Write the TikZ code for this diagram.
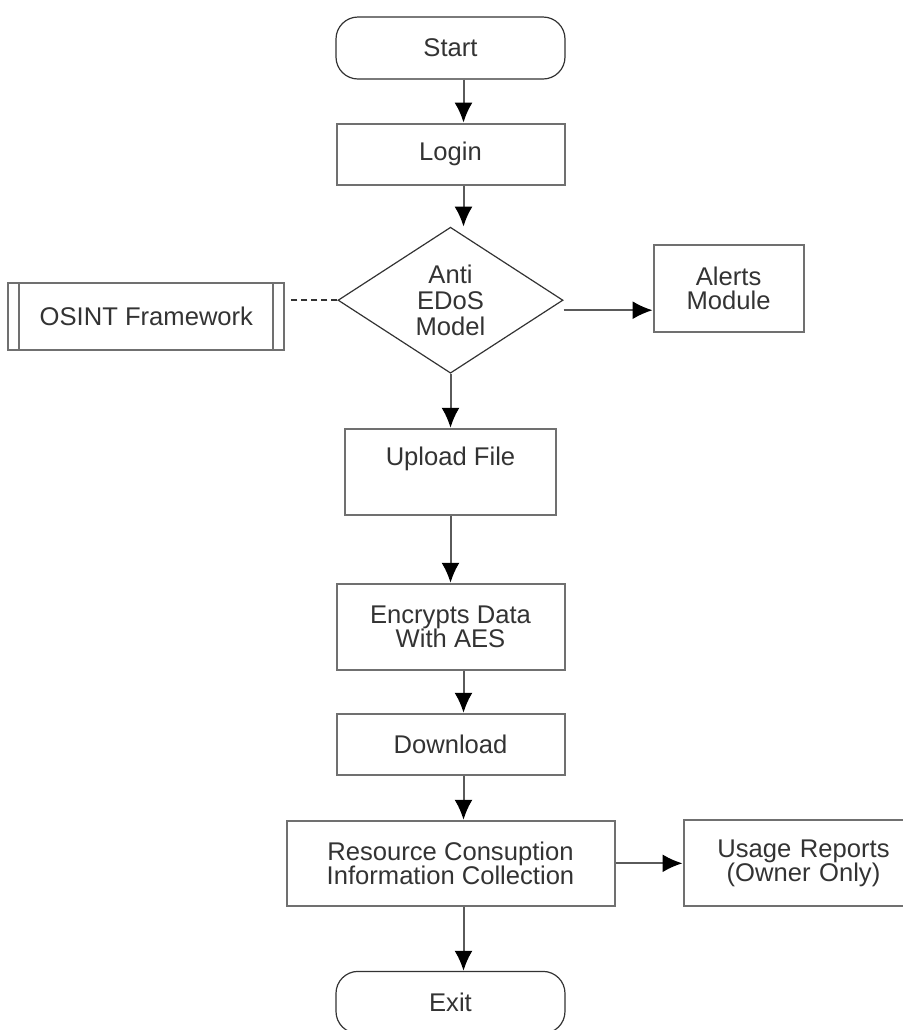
\documentclass[tikz,border=0pt]{standalone}
\usepackage{fontspec}
\setmainfont{Liberation Sans}
\usepackage{tikz}
\usetikzlibrary{arrows.meta}
\usetikzlibrary{positioning}
\usetikzlibrary{shapes.geometric}

\definecolor{edgegray}{HTML}{707070}
\definecolor{linegray}{HTML}{5A5A5A}
\definecolor{textgray}{HTML}{333333}

\begin{document}
\begin{tikzpicture}[
  x=0.5pt, y=-0.5pt,
  every node/.style={
    font=\fontsize{12.8}{12}\selectfont,
    text=textgray
  },
  term/.style={
    draw=textgray,
    line width=0.6pt,
    rounded corners=11pt,
    minimum width=114.5pt,
    minimum height=31pt,
    align=center
  },
  box/.style={
    draw=edgegray,
    line width=1pt,
    minimum width=114pt,
    minimum height=30.5pt,
    align=center
  },
  decision/.style={
    diamond,
    draw=textgray,
    line width=0.6pt,
    minimum width=112.5pt,
    minimum height=73pt,
    inner sep=0pt,
    align=center,
    font=\fontsize{12.8}{13}\selectfont
  },
  subproc/.style={
    box,
    path picture={
      \draw[edgegray, line width=1pt]
        ([xshift=5.5pt]path picture bounding box.north west) --
        ([xshift=5.5pt]path picture bounding box.south west);
      \draw[edgegray, line width=1pt]
        ([xshift=-5.5pt]path picture bounding box.north east) --
        ([xshift=-5.5pt]path picture bounding box.south east);
    }
  },
  arrow/.style={-{Latex[length=10pt, width=9pt, color=black]}, draw=linegray, line width=1pt},
  link/.style={dashed, dash pattern=on 3pt off 2pt, draw=textgray, line width=0.8pt}
]
\useasboundingbox (0,0) rectangle (902,1030);

\node[term] (start) at (450.5,48) {Start};
\node[box, below=21.5pt of start] (login) {Login};
\node[decision, below=20.5pt of login] (model) {
  Anti\\EDoS\\Model
};
\node[box, minimum width=105.5pt, minimum height=43pt,
  text height=8pt, text depth=14pt, below=27pt of model] (upload) {Upload File};
\node[box, minimum height=43pt, below=33.5pt of upload] (encrypt) {
  Encrypts Data\\
  With AES
};
\node[box, below=21pt of encrypt] (download) {Download};
\node[box, minimum width=164pt, minimum height=42.5pt, below=22pt of download] (collect) {
  Resource Consuption\\
  Information Collection
};
\node[term, below=32pt of collect] (exit) {Exit};

\node[subproc, minimum width=138pt, minimum height=33.5pt,
  left=26pt of model, yshift=-8.25pt] (osint) {OSINT Framework};
\node[box, minimum width=75pt, minimum height=43.5pt,
  right=44.5pt of model, yshift=5.75pt] (alerts) {
  Alerts\\
  Module
};
\node[box, minimum width=120pt, minimum height=43pt, right=33.5pt of collect,
  text width=108pt, xshift=0pt] (usage) {
  Usage Reports\\
  (Owner Only)
};

\draw[arrow] ([xshift=6.5pt]start.south) -- ([xshift=6.5pt]login.north);
\draw[arrow] ([xshift=6.5pt]login.south) -- ([xshift=6.5pt]login.south |- model.north);
\draw[arrow] (model.south) -- (upload.north);
\draw[arrow] (upload) -- (encrypt);
\draw[arrow] ([xshift=6.5pt]encrypt.south) -- ([xshift=6.5pt]download.north);
\draw[arrow] ([xshift=6.5pt]download.south) -- ([xshift=6.5pt]collect.north);
\draw[arrow] ([xshift=6.5pt]collect.south) -- ([xshift=6.5pt]exit.north);

\draw[arrow] ([yshift=-5pt]model.east) -- ([yshift=-5pt]model.east -| alerts.west);
\draw[link, shorten >=1.5pt] (model.west) -- (model.west -| osint.east);
\draw[arrow] (collect) -- (usage);

\end{tikzpicture}
\end{document}
